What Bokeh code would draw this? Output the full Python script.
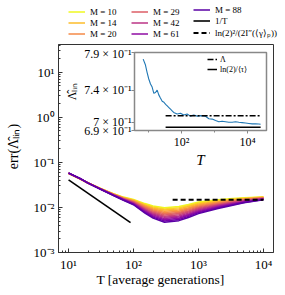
import math
from bokeh.plotting import figure
from bokeh.models import (Range1d, FixedTicker, CustomJSTickFormatter, Legend, LegendItem, Label)
from bokeh.embed import file_html
from bokeh.resources import INLINE
from bokeh.palettes import Plasma256

FONT = "Liberation Serif"

# ---------------- data ----------------
T = [10, 15, 20, 30, 50, 70, 100, 150, 200, 300, 500, 700, 1000, 2000, 3000, 5000, 10000]
M_values = [10, 11, 14, 17, 20, 24, 29, 35, 42, 51, 61, 73, 88]
legend_M = [10, 14, 20, 29, 42, 61, 88]

err_M10 = [0.0570, 0.0430, 0.03500, 0.02700, 0.02000, 0.01700, 0.01500, 0.01220, 0.01080, 0.00990, 0.01050, 0.01170, 0.01320, 0.01480, 0.01560, 0.01640, 0.01720]
err_M11 = [0.0571, 0.0431, 0.03498, 0.02692, 0.01984, 0.01678, 0.01467, 0.01172, 0.01025, 0.00930, 0.00989, 0.01107, 0.01256, 0.01426, 0.01513, 0.01605, 0.01700]
err_M14 = [0.0572, 0.0432, 0.03497, 0.02683, 0.01969, 0.01655, 0.01435, 0.01125, 0.00974, 0.00874, 0.00931, 0.01047, 0.01196, 0.01375, 0.01467, 0.01572, 0.01679]
err_M17 = [0.0573, 0.0433, 0.03495, 0.02675, 0.01953, 0.01634, 0.01404, 0.01080, 0.00925, 0.00822, 0.00877, 0.00990, 0.01138, 0.01325, 0.01423, 0.01539, 0.01659]
err_M20 = [0.0574, 0.0434, 0.03493, 0.02667, 0.01938, 0.01612, 0.01373, 0.01037, 0.00878, 0.00772, 0.00825, 0.00937, 0.01083, 0.01277, 0.01380, 0.01506, 0.01640]
err_M24 = [0.0575, 0.0435, 0.03492, 0.02658, 0.01922, 0.01591, 0.01343, 0.00996, 0.00834, 0.00726, 0.00777, 0.00886, 0.01031, 0.01230, 0.01339, 0.01474, 0.01620]
err_M29 = [0.0576, 0.0436, 0.03490, 0.02650, 0.01907, 0.01570, 0.01313, 0.00957, 0.00791, 0.00682, 0.00732, 0.00838, 0.00982, 0.01186, 0.01298, 0.01443, 0.01601]
err_M35 = [0.0577, 0.0437, 0.03488, 0.02642, 0.01892, 0.01549, 0.01285, 0.00919, 0.00752, 0.00641, 0.00689, 0.00793, 0.00934, 0.01143, 0.01259, 0.01413, 0.01582]
err_M42 = [0.0578, 0.0438, 0.03487, 0.02633, 0.01878, 0.01529, 0.01257, 0.00882, 0.00714, 0.00603, 0.00649, 0.00750, 0.00889, 0.01101, 0.01221, 0.01383, 0.01563]
err_M51 = [0.0579, 0.0439, 0.03485, 0.02625, 0.01863, 0.01509, 0.01229, 0.00847, 0.00678, 0.00566, 0.00611, 0.00709, 0.00847, 0.01061, 0.01184, 0.01354, 0.01545]
err_M61 = [0.0580, 0.0440, 0.03483, 0.02617, 0.01848, 0.01489, 0.01202, 0.00814, 0.00643, 0.00532, 0.00575, 0.00671, 0.00806, 0.01023, 0.01149, 0.01325, 0.01526]
err_M73 = [0.0581, 0.0441, 0.03482, 0.02608, 0.01834, 0.01469, 0.01176, 0.00781, 0.00611, 0.00500, 0.00542, 0.00634, 0.00767, 0.00986, 0.01114, 0.01297, 0.01508]
err_M88 = [0.0582, 0.0442, 0.03480, 0.02600, 0.01820, 0.01450, 0.01150, 0.00750, 0.00580, 0.00470, 0.00510, 0.00600, 0.00730, 0.00950, 0.01080, 0.01270, 0.01490]
err_curves = [err_M10, err_M11, err_M14, err_M17, err_M20, err_M24, err_M29,
              err_M35, err_M42, err_M51, err_M61, err_M73, err_M88]

invT_T = [10, 90]
invT_err = [0.041, 0.0046]
plateau_T = [400, 10000]
plateau_err = [0.0149, 0.0149]

inset_T = [6.9, 8.1, 9.1, 10.2, 11.5, 12.9, 14.5, 16.3, 18.3, 20.5, 23, 26, 29.4, 33, 37, 41.5,
           46.5, 52, 58, 74, 93, 117, 148, 186, 235, 297, 377, 533, 676, 853, 1075, 1355,
           1710, 2160, 2720, 3440, 4340, 5470, 6900, 8700, 11000, 13900, 17500, 22000, 25000]
inset_L = [0.781, 0.773, 0.763, 0.7545, 0.748, 0.744, 0.736, 0.737, 0.740, 0.734, 0.730, 0.726,
           0.7247, 0.722, 0.720, 0.718, 0.716, 0.714, 0.712, 0.710, 0.711, 0.7087, 0.710, 0.7074,
           0.7087, 0.7074, 0.708, 0.7072, 0.7042, 0.7038, 0.702, 0.7006, 0.7012, 0.7006, 0.700,
           0.700, 0.7006, 0.700, 0.6995, 0.699, 0.6985, 0.698, 0.698, 0.6978, 0.6975]
lambda_T = [33, 25000]
lambda_val = [0.708, 0.708]
tau_T = [33, 25000]
tau_val = [0.694, 0.694]

inset_yticks = [0.69, 0.70, 0.74, 0.79]
inset_ylabels = ["6.9 × 10⁻¹", "7 × 10⁻¹", "7.4 × 10⁻¹", "7.9 × 10⁻¹"]

x_title = "T [average generations]"
y_title = "err(Λ̂ₗᵢₙ)"

# ---------------- helpers ----------------
SUP_JS = """
const e = Math.round(Math.log10(tick));
const m = {"-":"\u207b","0":"\u2070","1":"\u00b9","2":"\u00b2","3":"\u00b3","4":"\u2074",
           "5":"\u2075","6":"\u2076","7":"\u2077","8":"\u2078","9":"\u2079"};
return "10" + String(e).split("").map(c => m[c]).join("");
"""

def minor_list(lo, hi):
    out = []
    for d in range(lo, hi + 1):
        for k in range(2, 10):
            out.append(k * 10.0 ** d)
    return out

def style_axis(ax, color, inward):
    ax.axis_line_color = color
    ax.major_tick_line_color = color
    ax.minor_tick_line_color = color
    if inward:
        ax.major_tick_in, ax.major_tick_out = 4, 0
        ax.minor_tick_in, ax.minor_tick_out = 2, 0
    else:
        ax.major_tick_in, ax.major_tick_out = 0, 3
        ax.minor_tick_in, ax.minor_tick_out = 0, 2
    ax.major_label_text_font = FONT
    ax.major_label_text_color = "black"
    ax.axis_label_text_font = FONT
    ax.axis_label_text_color = "black"

def color_for(i):
    return Plasma256[int(round((1.0 - i * 0.07) * 255))]

# ---------------- main figure (page has no body margin: figure at 0,0) ----------------
p = figure(width=285, height=295, x_axis_type="log", y_axis_type="log",
           x_range=Range1d(10 ** 0.845, 10 ** 4.155), y_range=Range1d(1e-3, 10 ** 1.62),
           output_backend="svg", toolbar_location=None,
           min_border_left=58, min_border_right=12, min_border_top=44, min_border_bottom=43)
p.xgrid.visible = False
p.ygrid.visible = False
p.outline_line_color = "#333333"
p.outline_line_width = 1

p.xaxis.ticker = FixedTicker(ticks=[10, 100, 1000, 10000], minor_ticks=minor_list(0, 3))
p.yaxis.ticker = FixedTicker(ticks=[1e-3, 1e-2, 1e-1, 1, 10], minor_ticks=minor_list(-3, 1))
p.xaxis.formatter = CustomJSTickFormatter(code=SUP_JS)
p.yaxis.formatter = CustomJSTickFormatter(code=SUP_JS)
for ax in (p.xaxis[0], p.yaxis[0]):
    style_axis(ax, "#333333", True)
    ax.major_label_text_font_size = "13px"
p.xaxis.major_label_standoff = 4
p.yaxis.major_label_standoff = 4

for i, err in enumerate(err_curves):
    p.line(T, err, line_color=color_for(i), line_width=1.5)

p.line(invT_T, invT_err, line_color="black", line_width=1.6)
p.line(plateau_T, plateau_err, line_color="black", line_width=2, line_dash="5 3")

# ---------------- legend strip above the main frame ----------------
# same series drawn into a tiny range so only the legend glyphs are visible
lf = figure(width=277, height=40, x_range=Range1d(0, 1), y_range=Range1d(0, 1),
            x_axis_location=None, y_axis_location=None, min_border=0,
            output_backend="svg", toolbar_location=None,
            styles={"position": "absolute", "left": "8px", "top": "0px"})
lf.outline_line_color = None
lf.xgrid.visible = False
lf.ygrid.visible = False
lf.background_fill_alpha = 0
lf.border_fill_alpha = 0

proxy = {}
for i, M in enumerate(M_values):
    if M in legend_M:
        proxy[M] = lf.line(T, err_curves[i], line_color=color_for(i), line_width=1.5)
proxy_inv = lf.line(invT_T, invT_err, line_color="black", line_width=1.6)
proxy_pl = lf.line(plateau_T, plateau_err, line_color="black", line_width=2, line_dash="5 3")

def make_legend(items, x):
    lg = Legend(items=items, location=(x, 1), orientation="vertical",
                label_text_font=FONT, label_text_font_size="9px", label_text_color="black",
                glyph_width=17, glyph_height=11, label_height=11, label_standoff=5,
                spacing=0, padding=0, margin=0, background_fill_alpha=0,
                border_line_alpha=0)
    lf.add_layout(lg, "center")

make_legend([LegendItem(label=f"M = {m}", renderers=[proxy[m]]) for m in legend_M[0:3]], 60)
make_legend([LegendItem(label=f"M = {m}", renderers=[proxy[m]]) for m in legend_M[3:6]], 123)
make_legend([LegendItem(label=f"M = {legend_M[6]}", renderers=[proxy[legend_M[6]]]),
             LegendItem(label="1/T", renderers=[proxy_inv]),
             LegendItem(label="ln(2)²/(2I″(⟨γ⟩ₚ))", renderers=[proxy_pl])], 185)

# ---------------- axis titles of the main plot (page-pixel overlay) ----------------
tf = figure(width=285, height=295, x_range=Range1d(0, 285), y_range=Range1d(0, 295),
            x_axis_location=None, y_axis_location=None, min_border=0,
            output_backend="svg", toolbar_location=None,
            styles={"position": "absolute", "left": "0px", "top": "0px"})
tf.outline_line_color = None
tf.xgrid.visible = False
tf.ygrid.visible = False
tf.background_fill_alpha = 0
tf.border_fill_alpha = 0
tf.add_layout(Label(x=160, y=295 - 279, text=x_title, text_font=FONT, text_font_size="13.5px",
                    text_color="black", text_align="center", text_baseline="middle"))
tf.add_layout(Label(x=13, y=295 - 146, text=y_title, angle=math.pi / 2, text_font=FONT,
                    text_font_size="14px", text_color="black",
                    text_align="center", text_baseline="middle"))

# ---------------- inset figure ----------------
ins = figure(width=212, height=124, x_axis_type="log", y_axis_type="log",
             x_range=Range1d(10 ** 0.576, 10 ** 4.576), y_range=Range1d(0.69, 0.79),
             output_backend="svg", toolbar_location=None,
             min_border_left=74, min_border_right=6, min_border_top=6, min_border_bottom=36,
             styles={"position": "absolute", "left": "60px", "top": "46px"})
ins.border_fill_alpha = 0
ins.xgrid.visible = False
ins.ygrid.visible = False
ins.outline_line_color = "#888888"
ins.outline_line_width = 1.5
ins.xaxis.ticker = FixedTicker(ticks=[100, 10000], minor_ticks=[10, 1000])
ins.xaxis.formatter = CustomJSTickFormatter(code=SUP_JS)
ins.yaxis.ticker = FixedTicker(ticks=inset_yticks, minor_ticks=[])
ins.yaxis.major_label_overrides = dict(zip(inset_yticks, inset_ylabels))
for ax in (ins.xaxis[0], ins.yaxis[0]):
    style_axis(ax, "#888888", False)
    ax.major_label_text_font_size = "12px"
ins.xaxis.major_label_standoff = 1
ins.yaxis.major_label_standoff = 0
ins.xaxis.axis_label = "T"
ins.xaxis.axis_label_text_font_style = "italic"
ins.xaxis.axis_label_text_font_size = "15px"
ins.xaxis.axis_label_standoff = 0
ins.yaxis.axis_label = "Λ̂ₗᵢₙ"
ins.yaxis.axis_label_text_font_style = "normal"
ins.yaxis.axis_label_text_font_size = "12px"
ins.yaxis.axis_label_standoff = 2

ins.line(inset_T, inset_L, line_color="#1f77b4", line_width=1.1)
r_lam = ins.line(lambda_T, lambda_val, line_color="black", line_width=1.5, line_dash="6 2 2 2")
r_tau = ins.line(tau_T, tau_val, line_color="black", line_width=1.5)
ileg = Legend(items=[LegendItem(label="Λ", renderers=[r_lam]),
                     LegendItem(label="ln(2)/⟨τ⟩", renderers=[r_tau])],
              location=(73, 56), label_text_font=FONT, label_text_font_size="8px",
              label_text_color="black",
              glyph_width=10, glyph_height=10, label_height=10, label_standoff=3,
              spacing=0, padding=0, margin=0, background_fill_alpha=0, border_line_alpha=0)
ins.add_layout(ileg, "center")

open("out.html", "w").write(file_html([p, lf, tf, ins], INLINE))
